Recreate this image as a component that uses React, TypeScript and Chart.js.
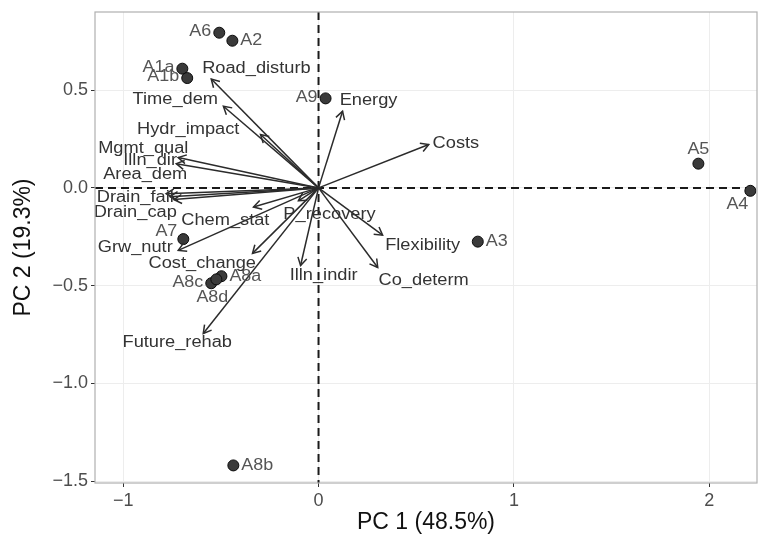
import React, { useEffect, useRef } from 'react';
import { Chart, registerables } from 'chart.js';

Chart.register(...registerables);

// ---- Data ----
const sampleNames = ['A1a', 'A1b', 'A2', 'A3', 'A4', 'A5', 'A6', 'A7', 'A8a', 'A8b', 'A8c', 'A8d', 'A9'];
const sampleX = [-0.697, -0.672, -0.441, 0.815, 2.21, 1.944, -0.508, -0.692, -0.497, -0.436, -0.549, -0.523, 0.036];
const sampleY = [0.61, 0.562, 0.753, -0.275, -0.015, 0.124, 0.794, -0.262, -0.452, -1.42, -0.488, -0.468, 0.458];

const varNames = [
  'Road_disturb', 'Time_dem', 'Hydr_impact', 'Mgmt_qual', 'Illn_dir', 'Area_dem',
  'Drain_fail', 'Drain_cap', 'Chem_stat', 'P_recovery', 'Grw_nutr', 'Cost_change',
  'Future_rehab', 'Illn_indir', 'Flexibility', 'Co_determ', 'Costs', 'Energy',
];
const varX = [-0.549, -0.487, -0.297, -0.718, -0.728, -0.78, -0.76, -0.74, -0.333, -0.103, -0.718, -0.338, -0.59, -0.092, 0.328, 0.303, 0.564, 0.123];
const varY = [0.557, 0.418, 0.273, 0.155, 0.124, -0.03, -0.045, -0.06, -0.098, -0.066, -0.32, -0.335, -0.745, -0.397, -0.242, -0.407, 0.222, 0.392];
const varLabelX = [-0.318, -0.733, -0.667, -0.897, -0.862, -0.887, -0.938, -0.938, -0.477, 0.056, -0.938, -0.595, -0.723, 0.026, 0.533, 0.538, 0.703, 0.256];
const varLabelY = [0.608, 0.454, 0.299, 0.201, 0.139, 0.067, -0.052, -0.124, -0.165, -0.139, -0.304, -0.387, -0.794, -0.448, -0.294, -0.474, 0.227, 0.448];

const xTicks = [-1, 0, 1, 2];
const yTicks = [-1.5, -1, -0.5, 0, 0.5];
const xTitle = 'PC 1 (48.5%)';
const yTitle = 'PC 2 (19.3%)';

// ---- Styles ----
const FONT = '"Liberation Sans", Arial, Helvetica, sans-serif';
const sampleLabelSide: Record<string, string> = {
  A1a: 'left', A1b: 'left', A2: 'right', A3: 'right', A4: 'belowleft', A5: 'above',
  A6: 'left', A7: 'aboveleft', A8a: 'right', A8b: 'right', A8c: 'left', A8d: 'below', A9: 'left',
};
const sideOffsets: Record<string, { dx: number; dy: number; align: CanvasTextAlign }> = {
  left: { dx: -8, dy: -1, align: 'right' },
  right: { dx: 8, dy: 0, align: 'left' },
  above: { dx: 0, dy: -14, align: 'center' },
  below: { dx: -4, dy: 18, align: 'center' },
  belowleft: { dx: -13, dy: 14, align: 'center' },
  aboveleft: { dx: -6, dy: -8, align: 'right' },
};

const fmtMinus = (v: number, dec: number) => {
  const s = Math.abs(v).toFixed(dec);
  return v < 0 ? '\u2212' + s : s;
};

// horizontally widened text, as in the reference picture
const wideText = (ctx: CanvasRenderingContext2D, text: string, x: number, y: number, align: CanvasTextAlign, sx: number) => {
  ctx.save();
  ctx.translate(x, y);
  ctx.scale(sx, 1);
  ctx.textAlign = align;
  ctx.fillText(text, 0, 0);
  ctx.restore();
};

const biplotPlugin = {
  id: 'biplotDecor',
  beforeDatasetsDraw(chart: any) {
    const { ctx, chartArea, scales } = chart;
    const { left, right, top, bottom } = chartArea;
    const x0 = scales.x.getPixelForValue(0);
    const y0 = scales.y.getPixelForValue(0);
    ctx.save();
    ctx.beginPath();
    ctx.rect(left, top, right - left, bottom - top);
    ctx.clip();
    ctx.strokeStyle = '#1a1a1a';
    ctx.lineWidth = 2;
    ctx.setLineDash([8, 5]);
    ctx.beginPath();
    ctx.moveTo(x0, top);
    ctx.lineTo(x0, bottom);
    ctx.moveTo(left, y0);
    ctx.lineTo(right, y0);
    ctx.stroke();
    ctx.restore();
  },
  afterDatasetsDraw(chart: any) {
    const { ctx, chartArea, scales } = chart;
    const x0 = scales.x.getPixelForValue(0);
    const y0 = scales.y.getPixelForValue(0);
    ctx.save();
    // arrowheads
    ctx.strokeStyle = '#2b2b2b';
    ctx.lineWidth = 1.5;
    ctx.setLineDash([]);
    varNames.forEach((_, i) => {
      const tx = scales.x.getPixelForValue(varX[i]);
      const ty = scales.y.getPixelForValue(varY[i]);
      const ang = Math.atan2(ty - y0, tx - x0);
      const len = 9;
      const spread = Math.PI / 6;
      ctx.beginPath();
      ctx.moveTo(tx - len * Math.cos(ang - spread), ty - len * Math.sin(ang - spread));
      ctx.lineTo(tx, ty);
      ctx.lineTo(tx - len * Math.cos(ang + spread), ty - len * Math.sin(ang + spread));
      ctx.stroke();
    });
    // variable labels
    ctx.fillStyle = '#333333';
    ctx.font = `16px ${FONT}`;
    ctx.textBaseline = 'middle';
    varNames.forEach((name, i) => {
      wideText(ctx, name, scales.x.getPixelForValue(varLabelX[i]), scales.y.getPixelForValue(varLabelY[i]), 'center', 1.14);
    });
    // sample labels
    ctx.fillStyle = '#555555';
    ctx.font = `16px ${FONT}`;
    sampleNames.forEach((name, i) => {
      const off = sideOffsets[sampleLabelSide[name]];
      const px = scales.x.getPixelForValue(sampleX[i]);
      const py = scales.y.getPixelForValue(sampleY[i]);
      wideText(ctx, name, px + off.dx, py + off.dy, off.align, 1.12);
    });
    // panel border
    ctx.strokeStyle = '#b0b0b0';
    ctx.lineWidth = 1.2;
    ctx.strokeRect(chartArea.left, chartArea.top, chartArea.right - chartArea.left, chartArea.bottom - chartArea.top);
    ctx.restore();
  },
};

export default function App() {
  const canvasRef = useRef<HTMLCanvasElement | null>(null);

  useEffect(() => {
    if (!canvasRef.current) return;
    const arrowSets = varNames.map((name, i) => ({
      label: name,
      data: [{ x: 0, y: 0 }, { x: varX[i], y: varY[i] }],
      showLine: true,
      borderColor: '#2b2b2b',
      borderWidth: 1.5,
      pointRadius: 0,
      pointHoverRadius: 0,
      order: 2,
    }));
    const chart = new Chart(canvasRef.current, {
      type: 'scatter',
      data: {
        datasets: [
          {
            label: 'samples',
            data: sampleX.map((x, i) => ({ x, y: sampleY[i] })),
            pointRadius: 5.5,
            pointBackgroundColor: '#3a3a3a',
            pointBorderColor: '#0a0a0a',
            pointBorderWidth: 1,
            order: 0,
          },
          ...arrowSets,
        ] as any,
      },
      options: {
        responsive: false,
        animation: false,
        layout: { padding: { top: 12, right: 8, left: 0, bottom: 0 } },
        plugins: { legend: { display: false }, tooltip: { enabled: false }, title: { display: false } },
        scales: {
          x: {
            type: 'linear',
            min: -1.144,
            max: 2.244,
            afterBuildTicks: (scale: any) => {
              scale.ticks = xTicks.map((v) => ({ value: v }));
            },
            afterFit: (scale: any) => {
              scale.height = 62;
              scale.paddingLeft = 0;
              scale.paddingRight = 0;
            },
            ticks: {
              callback: (v: any) => fmtMinus(Number(v), 0),
              color: '#4d4d4d',
              font: { family: FONT, size: 18 },
              padding: 3,
              maxRotation: 0,
            },
            grid: { color: '#ededed', lineWidth: 1, tickColor: '#333333', tickLength: 4, tickWidth: 1 },
            border: { display: false },
            title: {
              display: true,
              text: xTitle,
              color: '#111111',
              font: { family: FONT, size: 23 },
              padding: { top: 0, bottom: 9 },
            },
          },
          y: {
            type: 'linear',
            min: -1.51,
            max: 0.9,
            afterBuildTicks: (scale: any) => {
              scale.ticks = yTicks.map((v) => ({ value: v }));
            },
            afterFit: (scale: any) => {
              scale.width = 95;
              scale.paddingTop = 0;
              scale.paddingBottom = 0;
            },
            ticks: {
              callback: (v: any) => fmtMinus(Number(v), 1),
              color: '#4d4d4d',
              font: { family: FONT, size: 18 },
              padding: 3,
            },
            grid: { color: '#ededed', lineWidth: 1, tickColor: '#333333', tickLength: 4, tickWidth: 1 },
            border: { display: false },
            title: {
              display: true,
              text: yTitle,
              color: '#111111',
              font: { family: FONT, size: 23 },
              padding: { top: 10, bottom: 0 },
            },
          },
        },
      },
      plugins: [biplotPlugin],
    });
    return () => chart.destroy();
  }, []);

  return (
    <div style={{ position: 'absolute', left: 0, top: 0, width: 765, height: 545, background: '#ffffff' }}>
      <canvas ref={canvasRef} width={765} height={545} />
    </div>
  );
}
